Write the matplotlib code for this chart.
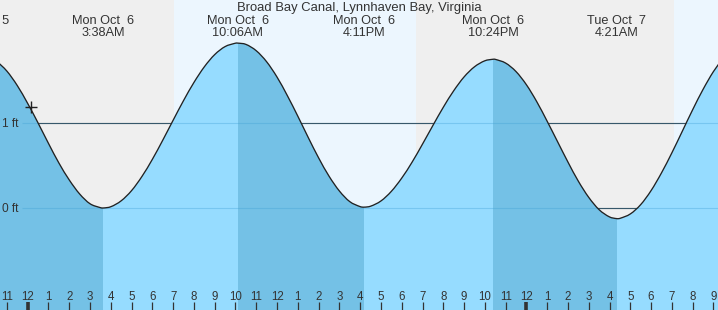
import matplotlib
matplotlib.use("Agg")
import matplotlib.pyplot as plt
from matplotlib.patches import PathPatch
from matplotlib.path import Path
from matplotlib.transforms import blended_transform_factory, offset_copy

# ---------------- data (hours since Mon Oct 6 00:00) ----------------
title = "Broad Bay Canal, Lynnhaven Bay, Virginia"

curve_t = [-1.5, -1.0, -0.5, 0.0, 0.5, 1.0, 1.5, 2.0, 2.5, 3.0, 3.5, 3.633,
           4.0, 4.5, 5.0, 5.5, 6.0, 6.5, 7.0, 7.5, 8.0, 8.5, 9.0, 9.5, 10.0, 10.1,
           10.5, 11.0, 11.5, 12.0, 12.5, 13.0, 13.5, 14.0, 14.5, 15.0, 15.5, 16.0, 16.183,
           16.5, 17.0, 17.5, 18.0, 18.5, 19.0, 19.5, 20.0, 20.5, 21.0, 21.5, 22.0, 22.4,
           22.5, 23.0, 23.5, 24.0, 24.5, 25.0, 25.5, 26.0, 26.5, 27.0, 27.5, 28.0, 28.35,
           28.5, 29.0, 29.5, 30.0, 30.5, 31.0, 31.5, 32.0, 32.5, 33.0, 33.5]
curve_h = [1.73, 1.61, 1.44, 1.23, 1.00, 0.76, 0.53, 0.33, 0.165, 0.05, 0.004, 0.00,
           0.015, 0.085, 0.205, 0.372, 0.573, 0.798, 1.033, 1.264, 1.477, 1.661, 1.805, 1.899, 1.939, 1.94,
           1.925, 1.85, 1.72, 1.54, 1.32, 1.08, 0.83, 0.59, 0.375, 0.20, 0.075, 0.016, 0.01,
           0.021, 0.083, 0.196, 0.352, 0.540, 0.752, 0.971, 1.185, 1.379, 1.542, 1.661, 1.732, 1.75,
           1.749, 1.705, 1.605, 1.45, 1.25, 1.02, 0.78, 0.54, 0.315, 0.125, -0.02, -0.105, -0.125,
           -0.122, -0.07, 0.04, 0.205, 0.413, 0.649, 0.902, 1.156, 1.395, 1.605, 1.773]

event_t = [-2.34, 3.633, 10.1, 16.183, 22.4, 28.35]
event_day = ["Sun Oct  5", "Mon Oct  6", "Mon Oct  6", "Mon Oct  6", "Mon Oct  6", "Tue Oct  7"]
event_time = ["", "3:38AM", "10:06AM", "4:11PM", "10:24PM", "4:21AM"]

# falling-tide periods (darker fill)
falling_bands = [(-3.0, 3.633), (10.1, 16.183), (22.4, 28.35)]
# daylight periods
day_bands = [(7.02, 18.69), (31.1, 40.0)]

hour_ticks = list(range(-1, 34))
now_t, now_h = 0.14, 1.19
ft_levels = [0, 1]
ft_labels = ["0 ft", "1 ft"]

# ---------------- style ----------------
W, H = 718, 310
XMIN, XMAX = -1.333, 33.22
YMIN, YMAX = -1.2, 2.447
night_c = "#efefef"
day_c = "#ecf6fe"
dark_c = "#74c1e6"
light_c = "#96dcff"
txt_c = "#333333"
fam = ["Liberation Sans", "DejaVu Sans"]

fig = plt.figure(figsize=(W / 100, H / 100), dpi=100)
ax = fig.add_axes([0, 0, 1, 1])
ax.set_xlim(XMIN, XMAX)
ax.set_ylim(YMIN, YMAX)
ax.axis("off")


def px2t(px):
    return XMIN + px / W * (XMAX - XMIN)


def smooth_path(ts, hs):
    """Cubic Hermite path through the readings (drawing only)."""
    n = len(ts)
    m = []
    for i in range(n):
        a = max(i - 1, 0)
        b = min(i + 1, n - 1)
        m.append((hs[b] - hs[a]) / (ts[b] - ts[a]))
    verts = [(ts[0], hs[0])]
    codes = [Path.MOVETO]
    for i in range(n - 1):
        dt = ts[i + 1] - ts[i]
        verts += [(ts[i] + dt / 3, hs[i] + m[i] * dt / 3),
                  (ts[i + 1] - dt / 3, hs[i + 1] - m[i + 1] * dt / 3),
                  (ts[i + 1], hs[i + 1])]
        codes += [Path.CURVE4] * 3
    return verts, codes


cv, cc = smooth_path(curve_t, curve_h)

# background
ax.axvspan(XMIN - 5, XMAX + 5, color=night_c, zorder=0, lw=0)
for a, b in day_bands:
    ax.axvspan(a, b, color=day_c, zorder=0.5, lw=0)

# black level lines (behind the water)
x_grid0 = px2t(22)
ax.hlines(ft_levels, x_grid0, XMAX + 1, colors="#333333", lw=0.8, zorder=1)

# water fill
fv = cv + [(curve_t[-1], YMIN - 1), (curve_t[0], YMIN - 1), (curve_t[0], curve_h[0])]
fc = cc + [Path.LINETO, Path.LINETO, Path.CLOSEPOLY]
water = PathPatch(Path(fv, fc), facecolor=light_c, edgecolor="none", zorder=2)
ax.add_patch(water)
for a, b in falling_bands:
    r = ax.axvspan(a, b, color=dark_c, zorder=2.1, lw=0)
    r.set_clip_path(water)

# faint grid lines on top of water
ax.hlines(ft_levels, x_grid0, XMAX + 1, colors="#3f9fd4", lw=0.8, alpha=0.35, zorder=3)

# tide curve
ax.add_patch(PathPatch(Path(cv, cc), facecolor="none", edgecolor="#222222",
                       lw=0.95, zorder=4))
ax.plot([now_t], [now_h], marker="+", ms=8, mew=1.0, color="#222222", zorder=5)

# ft labels (baseline a few pixels below the level line)
ft_tr = offset_copy(ax.transData, fig=fig, x=0, y=-4.3, units="dots")
for lv, lab in zip(ft_levels, ft_labels):
    ax.text(px2t(2), lv, lab, transform=ft_tr, ha="left", va="baseline",
            fontsize=8.6, color=txt_c, family=fam, zorder=6)

# top labels
tr = blended_transform_factory(ax.transData, fig.transFigure)
fig.text(0.5, 1 - 11.3 / H, title, ha="center", va="baseline", fontsize=9.35,
         color=txt_c, family=fam)
for t, d, s in zip(event_t, event_day, event_time):
    ax.text(t, 1 - 23.8 / H, d, transform=tr, ha="center", va="baseline",
            fontsize=9.2, color=txt_c, family=fam, clip_on=False)
    if s:
        ax.text(t, 1 - 35.8 / H, s, transform=tr, ha="center", va="baseline",
                fontsize=9.2, color=txt_c, family=fam, clip_on=False)

# hour ticks and labels
trb = blended_transform_factory(ax.transData, ax.transAxes)
for hr in hour_ticks:
    lab = str((hr % 12) or 12)
    mid = (hr % 24 == 0)
    ax.plot([hr, hr], [0, 8.5 / H], transform=trb, color=txt_c,
            lw=2.6 if mid else 0.9, zorder=6, solid_capstyle="butt")
    ax.text(hr, 10.3 / H, lab, transform=trb, ha="center", va="baseline",
            fontsize=8.3, color=txt_c, family=fam, zorder=6)

fig.savefig("out.png", dpi=100)
